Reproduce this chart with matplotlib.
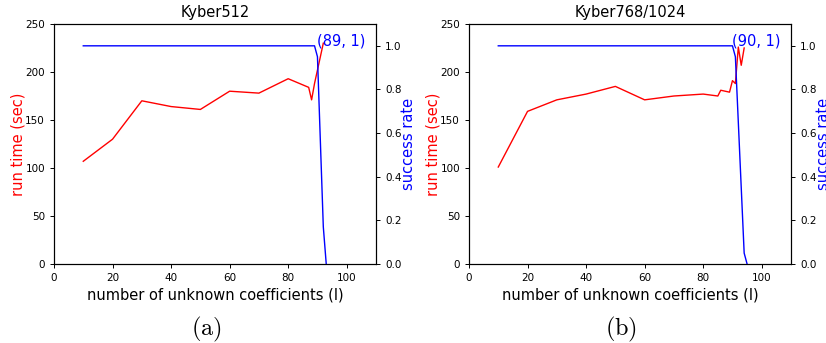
import matplotlib
matplotlib.use("Agg")
import matplotlib.pyplot as plt

plt.rcParams['mathtext.fontset'] = 'cm'

# Kyber512
a_time_l = [10, 20, 30, 40, 50, 60, 70, 80, 87, 88, 89, 90, 91, 92]
a_time = [107, 130, 170, 164, 161, 180, 178, 193, 184, 171, 188, 202, 216, 230]
a_rate_l = [10, 20, 30, 40, 50, 60, 70, 80, 89, 90, 91, 92, 93]
a_rate = [1, 1, 1, 1, 1, 1, 1, 1, 1.0, 0.95, 0.56, 0.17, 0.0]

# Kyber768/1024
b_time_l = [10, 20, 30, 40, 50, 60, 70, 80, 85, 86, 89, 90, 91, 92, 93, 94]
b_time = [101, 159, 171, 177, 185, 171, 175, 177, 175, 181, 179, 191, 188, 226, 207, 225]
b_rate_l = [10, 20, 30, 40, 50, 60, 70, 80, 90, 91, 92, 93, 94, 95]
b_rate = [1, 1, 1, 1, 1, 1, 1, 1, 1.0, 0.95, 0.65, 0.35, 0.05, 0.0]

titles = ["Kyber512", "Kyber768/1024"]
captions = ["(a)", "(b)"]
annots = ["(89, 1)", "(90, 1)"]
x_ticks = [0, 20, 40, 60, 80, 100]
y_ticks = [0, 50, 100, 150, 200, 250]
r_ticks = [0.0, 0.2, 0.4, 0.6, 0.8, 1.0]

fig = plt.figure(figsize=(8.26, 3.43), dpi=100)
lefts = [54 / 826, 469 / 826]
data = [(a_time_l, a_time, a_rate_l, a_rate), (b_time_l, b_time, b_rate_l, b_rate)]
fs = 10.5

for i in range(2):
    ax = fig.add_axes([lefts[i], 1 - 264 / 343, 322 / 826, 240 / 343])
    tl, tv, rl, rv = data[i]
    ax.plot(tl, tv, color='red', lw=1.0)
    ax.set_xlim(0, 110)
    ax.set_ylim(0, 250)
    ax.set_xticks(x_ticks)
    ax.set_yticks(y_ticks)
    ax.tick_params(labelsize=7.5, width=0.7, length=3)
    for s in ax.spines.values():
        s.set_linewidth(0.8)
    ax.set_title(titles[i], fontsize=fs, pad=5)
    ax.set_xlabel("number of unknown coefficients (l)", fontsize=fs, labelpad=3)
    ax.set_ylabel("run time (sec)", color='red', fontsize=fs)
    ax.yaxis.set_label_coords(-0.087, 0.5)
    ax2 = ax.twinx()
    ax2.plot(rl, rv, color='blue', lw=1.0)
    ax2.set_ylim(0, 1.1)
    ax2.set_yticks(r_ticks)
    ax2.tick_params(labelsize=7.5, width=0.7, length=3)
    ax2.set_ylabel("success rate", color='blue', fontsize=fs)
    ax2.yaxis.set_label_coords(1.077, 0.5)
    ax2.text(90, 1.0, annots[i], color='blue', fontsize=fs)
    fig.text(lefts[i] + 152 / 826, 1 - 329 / 343, r"$\mathrm{" + captions[i] + "}$",
             ha='center', va='center', fontsize=17.5)

fig.savefig("out.png", dpi=100)
